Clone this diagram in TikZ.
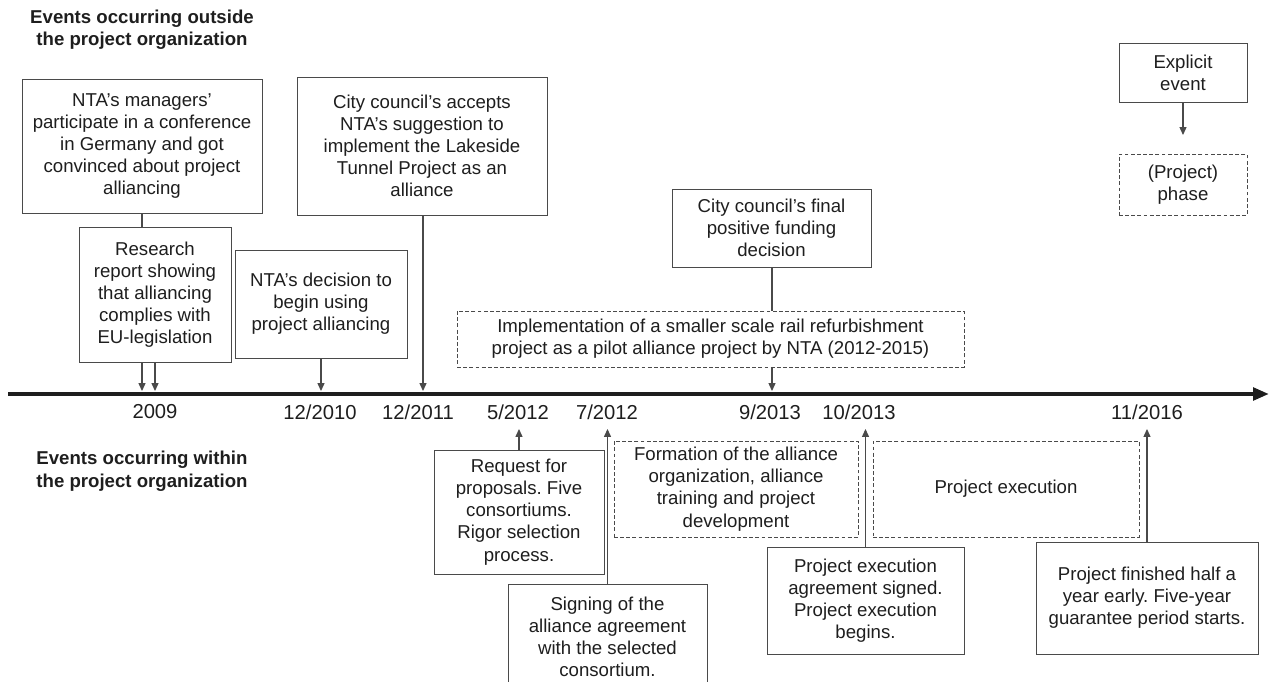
\documentclass[tikz,border=0pt]{standalone}
\usepackage{fontspec}
\setmainfont{Liberation Sans}
\usetikzlibrary{arrows.meta}
\definecolor{boxline}{HTML}{4A4A4A}
\definecolor{textcol}{HTML}{1E1E1E}
\frenchspacing
\begin{document}
\begin{tikzpicture}[x=0.02cm, y=-0.02cm,
	evt/.style={draw=boxline, fill=white, text=textcol, align=center, inner sep=0pt, font=\fontsize{10.6}{12.6}\selectfont},
	phase/.style={evt, dash pattern=on 2.2pt off 1.3pt},
	conn/.style={draw=boxline, line width=0.6pt, -{Triangle[length=4.5pt, width=4pt]}},
	date/.style={text=textcol, font=\fontsize{11.5}{13}\selectfont},
	head/.style={text=textcol, align=center, font=\bfseries\fontsize{10.6}{12.8}\selectfont}]
	\useasboundingbox (0, 0) rectangle (1269, 682);
	\clip (0, 0) rectangle (1269, 682);
	\node[head] (outside) at (142, 29.5) {Events occurring outside\\the project organization};
	\node[head] (within) at (142, 471) {Events occurring within\\the project organization};
	\draw[line width=2.3pt, textcol, -{Triangle[length=9pt, width=7pt]}] (8, 394) -- (1269, 394);
	\coordinate (t2009a) at (142, 391);
	\coordinate (t2009b) at (155, 391);
	\coordinate (t2010) at (321, 391);
	\coordinate (t2011) at (423, 391);
	\coordinate (t2013a) at (772, 391);
	\coordinate (t2012a) at (519, 429);
	\coordinate (t2012b) at (607.5, 429);
	\coordinate (t2013b) at (865.5, 429);
	\coordinate (t2016) at (1147, 429);
	\coordinate (legtip) at (1183, 135);
	\node[date] at (155, 412) {2009};
	\node[date] at (320, 412) {12/2010};
	\node[date] at (418, 412) {12/2011};
	\node[date] at (518, 412) {5/2012};
	\node[date] at (607, 412) {7/2012};
	\node[date] at (770, 412) {9/2013};
	\node[date] at (859, 412) {10/2013};
	\node[date] at (1147, 412) {11/2016};
	\node[evt, minimum width=4.8cm, minimum height=2.68cm] (managers) at (142, 146) {NTA's managers'\\participate in a conference\\in Germany and got\\convinced about project\\alliancing};
	\node[evt, minimum width=3.04cm, minimum height=2.7cm] (research) at (155, 294.5) {Research\\report showing\\that alliancing\\complies with\\EU-legislation};
	\node[evt, minimum width=3.44cm, minimum height=2.16cm] (decision) at (321, 304) {NTA's decision to\\begin using\\project alliancing};
	\node[evt, minimum width=5cm, minimum height=2.76cm] (accepts) at (422, 146) {City council's accepts\\NTA's suggestion to\\implement the Lakeside\\Tunnel Project as an\\alliance};
	\node[evt, minimum width=3.98cm, minimum height=1.56cm] (funding) at (771.5, 228) {City council's final\\positive funding\\decision};
	\node[phase, minimum width=10.14cm, minimum height=1.12cm] (pilot) at (710.5, 339) {Implementation of a smaller scale rail refurbishment\\project as a pilot alliance project by NTA (2012-2015)};
	\node[evt, minimum width=3.4cm, minimum height=2.48cm] (request) at (519, 512) {Request for\\proposals. Five\\consortiums.\\Rigor selection\\process.};
	\node[evt, minimum width=3.98cm, minimum height=2.12cm] (signing) at (607.5, 637) {Signing of the\\alliance agreement\\with the selected\\consortium.};
	\node[phase, minimum width=4.88cm, minimum height=1.92cm] (formation) at (736, 489) {Formation of the alliance\\organization, alliance\\training and project\\development};
	\node[evt, minimum width=3.94cm, minimum height=2.14cm] (agreement) at (865.5, 600.5) {Project execution\\agreement signed.\\Project execution\\begins.};
	\node[phase, minimum width=5.32cm, minimum height=1.92cm] (execution) at (1006, 489) {Project execution};
	\node[evt, minimum width=4.44cm, minimum height=2.24cm] (finished) at (1147, 598) {Project finished half a\\year early. Five-year\\guarantee period starts.};
	\node[evt, minimum width=2.56cm, minimum height=1.18cm] (legevent) at (1183, 72.5) {Explicit\\event};
	\node[phase, minimum width=2.56cm, minimum height=1.22cm] (legphase) at (1183, 184.5) {(Project)\\phase};
	\draw[draw=boxline, line width=0.6pt] (managers.south) -- (managers.south |- research.north);
	\draw[conn] (research.south -| t2009a) -- (t2009a);
	\draw[conn] (research.south) -- (t2009b);
	\draw[conn] (decision.south) -- (t2010);
	\draw[conn] (accepts.south -| t2011) -- (t2011);
	\draw[draw=boxline, line width=0.6pt] (funding.south -| t2013a) -- (pilot.north -| t2013a);
	\draw[conn] (pilot.south -| t2013a) -- (t2013a);
	\draw[conn] (request.north) -- (t2012a);
	\draw[conn] (signing.north) -- (t2012b);
	\draw[conn] (agreement.north) -- (t2013b);
	\draw[conn] (finished.north) -- (t2016);
	\draw[conn] (legevent.south) -- (legtip);
\end{tikzpicture}
\end{document}
